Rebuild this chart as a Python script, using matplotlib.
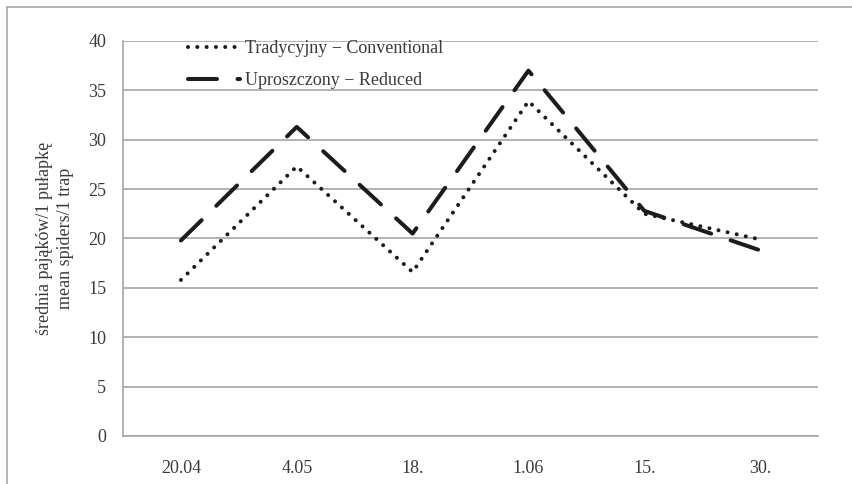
import matplotlib
matplotlib.use("Agg")
import matplotlib.pyplot as plt
from matplotlib.lines import Line2D

# Sampling dates and mean number of spiders per trap
dates = ["20.04", "4.05", "18.", "1.06", "15.", "30."]
conventional = [15.8, 27.3, 16.6, 33.9, 22.5, 19.9]
reduced = [19.8, 31.3, 20.5, 37.0, 22.8, 18.8]
yticks = [0, 5, 10, 15, 20, 25, 30, 35, 40]

label_conv = "Tradycyjny \u2212 Conventional"
label_red = "Uproszczony \u2212 Reduced"
ylabel = "średnia pająków/1 pułapkę\nmean spiders/1 trap"

plt.rcParams["font.family"] = ["Liberation Serif", "DejaVu Serif"]
fs = 13
plt.rcParams["font.size"] = fs
text_color = "#3a3a3a"
grid_color = "#a6a6a6"
line_color = "#1c1c1c"

fig = plt.figure(figsize=(8.53, 4.84), dpi=100)
ax = fig.add_axes([0.1442, 0.0992, 0.8148, 0.8161])

x = list(range(len(dates)))
lw = 2.9
ax.plot(x, conventional, color=line_color, lw=lw, dashes=(0.01, 2.3),
        dash_capstyle="round", solid_capstyle="round", label=label_conv)
ax.plot(x, reduced, color=line_color, lw=lw, dashes=(7.2, 5.1),
        dash_capstyle="round", solid_capstyle="round", label=label_red)

ax.set_xlim(-0.5, len(dates) - 0.5)
ax.set_ylim(0, 40)
ax.set_yticks(yticks)
ax.set_xticks(x)
ax.set_xticklabels(dates)
ax.yaxis.grid(True, color=grid_color, lw=1.2)
ax.set_axisbelow(True)
ax.tick_params(axis="both", length=0, colors=text_color, labelsize=fs)
ax.tick_params(axis="x", pad=17)
ax.tick_params(axis="y", pad=12)
for side in ["top", "right"]:
    ax.spines[side].set_visible(False)
ax.spines["left"].set_color(grid_color)
ax.spines["left"].set_linewidth(1.2)
ax.spines["bottom"].set_color(grid_color)
ax.spines["bottom"].set_linewidth(1.2)

ax.set_ylabel(ylabel, color=text_color, fontsize=fs, labelpad=10, linespacing=1.35)

leg = ax.legend(loc="upper left", bbox_to_anchor=(0.08, 1.025), frameon=False,
                handlelength=2.9, handletextpad=0.3, labelspacing=0.82,
                borderpad=0.0, fontsize=fs)
for t in leg.get_texts():
    t.set_color(text_color)

# Chart border (top and left edges)
fig.add_artist(Line2D([7 / 853, 1.0], [1 - 7 / 484, 1 - 7 / 484],
                      transform=fig.transFigure, color=grid_color, lw=1.2))
fig.add_artist(Line2D([7 / 853, 7 / 853], [0.0, 1 - 7 / 484],
                      transform=fig.transFigure, color=grid_color, lw=1.2))

fig.savefig("out.png", dpi=100)
